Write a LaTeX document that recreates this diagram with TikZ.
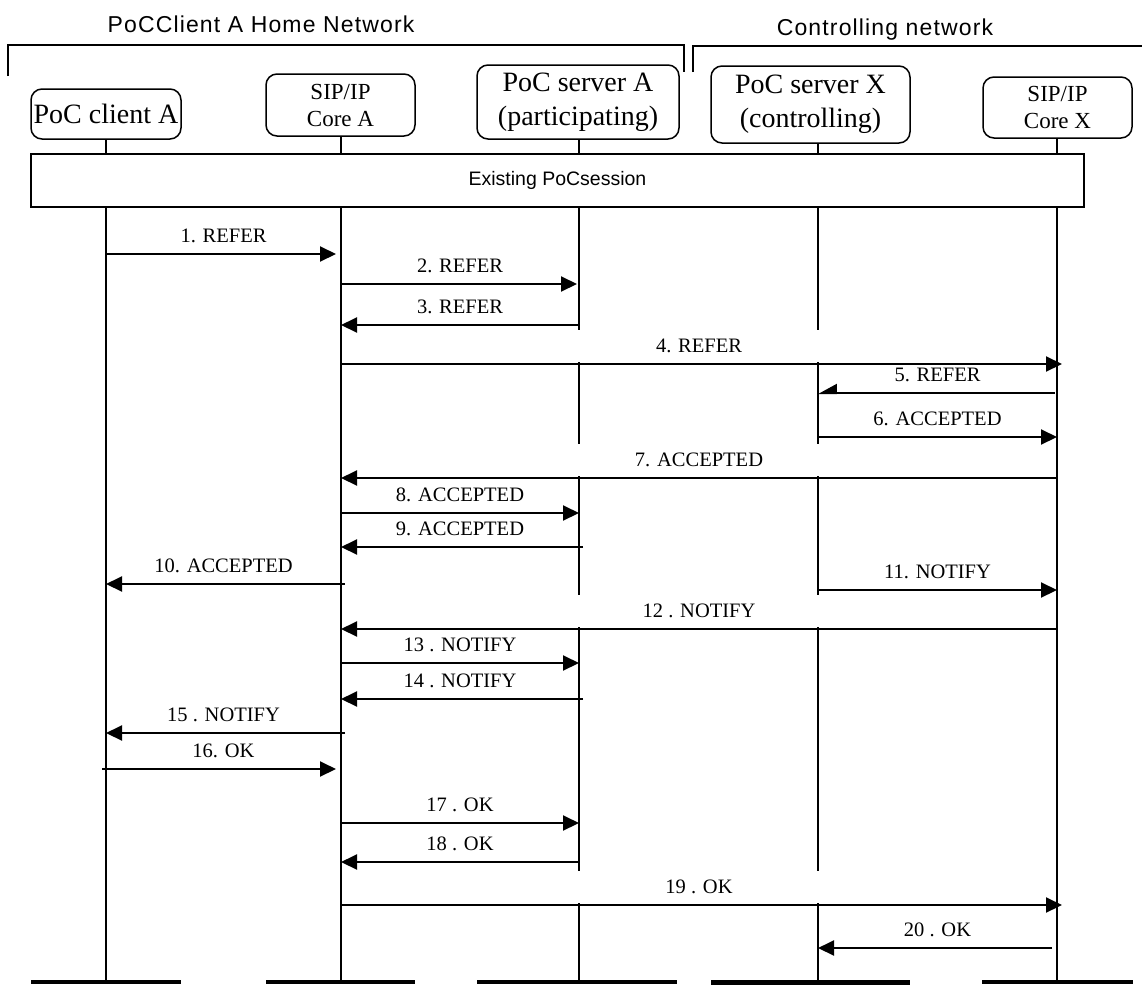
\documentclass[tikz,border=0pt]{standalone}
\usepackage{fontspec}
\setmainfont{Liberation Serif}
\newfontfamily\hdrfont[LetterSpace=5]{Liberation Sans}
\newfontfamily\sansf{Liberation Sans}
\usetikzlibrary{arrows.meta}
\begin{document}
\begin{tikzpicture}[x=1pt,y=-1pt,
  box/.style={draw, rounded corners=11pt, line width=1.5pt, align=center, inner sep=0pt},
  bigtxt/.style={font=\fontsize{28}{34}\selectfont},
  smtxt/.style={font=\fontsize{23}{27}\selectfont},
  life/.style={line width=1.8pt},
  msg/.style={line width=2pt, -{Triangle[length=16pt,width=15pt]}},
  halfmsg/.style={line width=2pt, -{Triangle[harpoon,swap,length=17pt,width=18pt]}},
  lbl/.style={font=\fontsize{20.5}{24}\selectfont, anchor=south, inner xsep=2pt, inner ysep=9pt, text height=14pt, text depth=0pt, yshift=1.2pt},
  gap/.style={lbl, fill=white, minimum width=680pt},
  bar/.style={fill=black, inner sep=0pt, minimum height=4pt},
  hdr/.style={line width=2pt}]
\useasboundingbox (0,0) rectangle (1142,985);
% header
\node[font=\hdrfont\fontsize{23}{27}\selectfont] (h1) at (261,24) {PoCClient A Home Network};
\node[font=\hdrfont\fontsize{23}{27}\selectfont] (h2) at (885,30) {Controlling network};
\coordinate (hL) at (8,45);
\coordinate (hM1) at (684,45);
\coordinate (hM2) at (693,46);
\coordinate (hR) at (1142,46);
\draw[hdr] (8,76) -- (hL) -- (hM1) -- (684,72);
\draw[hdr] (693,72) -- (hM2) -- (hR);
% boxes
\node[box,bigtxt,minimum width=150pt,minimum height=50pt] (cliA) at (106,114) {PoC client A};
\node[box,smtxt,minimum width=149pt,minimum height=62pt] (coreA) at (340.5,105) {SIP/IP\\Core A};
\node[box,bigtxt,minimum width=202pt,minimum height=74pt] (srvA) at (578,102) {PoC server A\\(participating)};
\node[box,bigtxt,minimum width=199pt,minimum height=77pt] (srvX) at (810.5,104.5) {PoC server X\\(controlling)};
\node[box,smtxt,minimum width=149pt,minimum height=61pt] (coreX) at (1057.5,107.5) {SIP/IP\\Core X};
% session
\node[draw, line width=2pt, minimum width=1053pt, minimum height=53pt, inner sep=0pt,
      font=\sansf\fontsize{19.5}{23}\selectfont] (sess) at (557.5,180.5) {Existing PoCsession};
% bars
\node[bar, minimum width=150pt] (bar1) at (106,982) {};
\node[bar, minimum width=149pt] (bar2) at (340.5,982) {};
\node[bar, minimum width=200pt] (bar3) at (577,982) {};
\node[bar, minimum width=199pt, minimum height=5pt] (bar4) at (810,982) {};
\node[bar, minimum width=151pt] (bar5) at (1057.5,982) {};
% lifelines
\coordinate (lA) at (106,0);
\coordinate (lCA) at (341,0);
\coordinate (lSA) at (579,0);
\coordinate (lSX) at (818,0);
\coordinate (lCX) at (1057,0);
\draw[life] (lA |- cliA.south) -- (lA |- sess.north);
\draw[life] (lCA |- coreA.south) -- (lCA |- sess.north);
\draw[life] (lSA |- srvA.south) -- (lSA |- sess.north);
\draw[life] (lSX |- srvX.south) -- (lSX |- sess.north);
\draw[life] (lCX |- coreX.south) -- (lCX |- sess.north);
\draw[life] (lA |- sess.south) -- (lA |- bar1.center);
\draw[life] (lCA |- sess.south) -- (lCA |- bar2.center);
\draw[life] (lSA |- sess.south) -- (lSA |- bar3.center);
\draw[life] (lSX |- sess.south) -- (lSX |- bar4.center);
\draw[life] (lCX |- sess.south) -- (lCX |- bar5.center);
% messages
\draw[msg, shorten >=5pt] (lA |- 0,254) -- (lCA |- 0,254) node[lbl,midway] {1. REFER};
\draw[msg, shorten >=2pt] (lCA |- 0,284) -- (lSA |- 0,284) node[lbl,midway] {2. REFER};
\draw[msg] (lSA |- 0,325) -- (lCA |- 0,325) node[lbl,midway] {3. REFER};
\draw[msg, shorten >=-5pt] (lCA |- 0,364) -- (lCX |- 0,364) node[gap,midway] {4. REFER};
\draw[halfmsg, shorten <=2pt] (lCX |- 0,393) -- (lSX |- 0,393) node[lbl,midway] {5. REFER};
\draw[msg] (lSX |- 0,437) -- (lCX |- 0,437) node[lbl,midway] {6. ACCEPTED};
\draw[msg] (lCX |- 0,478) -- (lCA |- 0,478) node[gap,midway] {7. ACCEPTED};
\draw[msg] (lCA |- 0,513) -- (lSA |- 0,513) node[lbl,midway] {8. ACCEPTED};
\draw[msg, shorten <=-4pt] (lSA |- 0,547) -- (lCA |- 0,547) node[lbl,midway] {9. ACCEPTED};
\draw[msg, shorten <=-4pt] (lCA |- 0,584) -- (lA |- 0,584) node[lbl,midway] {10. ACCEPTED};
\draw[msg] (lSX |- 0,590) -- (lCX |- 0,590) node[lbl,midway] {11. NOTIFY};
\draw[msg] (lCX |- 0,629) -- (lCA |- 0,629) node[gap,midway] {12 . NOTIFY};
\draw[msg] (lCA |- 0,663) -- (lSA |- 0,663) node[lbl,midway] {13 . NOTIFY};
\draw[msg, shorten <=-4pt] (lSA |- 0,699) -- (lCA |- 0,699) node[lbl,midway] {14 . NOTIFY};
\draw[msg, shorten <=-4pt] (lCA |- 0,733) -- (lA |- 0,733) node[lbl,midway] {15 . NOTIFY};
\draw[msg, shorten <=-4pt, shorten >=5pt] (lA |- 0,769) -- (lCA |- 0,769) node[lbl,midway] {16. OK};
\draw[msg] (lCA |- 0,823) -- (lSA |- 0,823) node[lbl,midway] {17 . OK};
\draw[msg] (lSA |- 0,862) -- (lCA |- 0,862) node[lbl,midway] {18 . OK};
\draw[msg, shorten >=-5pt] (lCA |- 0,905) -- (lCX |- 0,905) node[gap,midway] {19 . OK};
\draw[msg, shorten <=5pt] (lCX |- 0,948) -- (lSX |- 0,948) node[lbl,midway] {20 . OK};
\end{tikzpicture}
\end{document}
